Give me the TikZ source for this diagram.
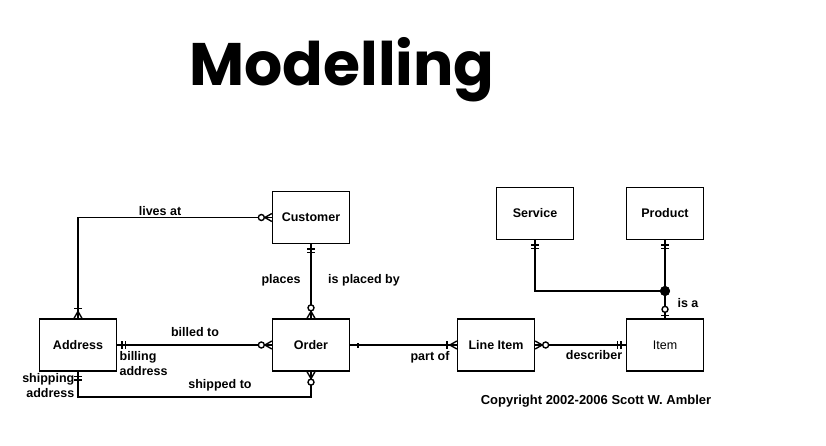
\documentclass[tikz,border=0pt]{standalone}
\usepackage{fontspec}
\setmainfont{Liberation Sans}
\newfontfamily\titlefont{Poppins}
\begin{document}
\begin{tikzpicture}[x=1pt,y=-1pt,
  line width=1.3pt,
  entity/.style={draw, line width=1.3pt, minimum width=77pt, minimum height=52pt, inner sep=0pt, font=\bfseries\fontsize{12.5}{14}\selectfont},
  lbl/.style={inner sep=0pt, font=\bfseries\fontsize{12.5}{15}\selectfont},
  conn/.style={line width=1.5pt},
  sym/.style={line width=1.4pt},
  crowzeromany/.pic={\draw[sym] (0,4pt)--(7pt,0)--(0,-4pt); \draw[sym,fill=white] (10.5pt,0) circle (3pt);},
  crowonemany/.pic={\draw[sym] (0,4pt)--(7pt,0)--(0,-4pt); \draw[sym] (10pt,-4pt)--(10pt,4pt);},
  crowexone/.pic={\draw[sym] (5pt,-4pt)--(5pt,4pt) (8.5pt,-4pt)--(8.5pt,4pt);},
  crowzeroone/.pic={\draw[sym] (3pt,-4pt)--(3pt,4pt); \draw[sym,fill=white] (9pt,0) circle (3pt);},
  crowtick/.pic={\draw[line width=2.4pt] (8pt,-2.5pt)--(8pt,2.5pt);}
]
\useasboundingbox (0,0) rectangle (826,446);

\node[font=\titlefont\bfseries\fontsize{60}{70}\selectfont] (title) at (342,70) {Modelling};

\node[entity] (Customer) at (311,217.5) {Customer};
\node[entity] (Address) at (78,345) {Address};
\node[entity] (Order) at (311,345) {Order};
\node[entity] (LineItem) at (496,345) {Line Item};
\node[entity, font=\fontsize{12.5}{14}\selectfont] (Item) at (665,345) {Item};
\node[entity] (Service) at (535,213.5) {Service};
\node[entity] (Product) at (665,213.5) {Product};

\node[circle, fill=black, inner sep=0pt, minimum size=10pt] (J) at (665,291) {};
\coordinate (S1) at (78,397);

% connectors
\draw[conn] (Address.north) |- (Customer.west);
\draw[conn] (Customer.south) -- (Order.north);
\draw[conn] (Address.east) -- (Order.west);
\draw[conn] (Address.south) -- (S1) -| (Order.south);
\draw[conn] (Order.east) -- (LineItem.west);
\draw[conn] (LineItem.east) -- (Item.west);
\draw[conn] (Service.south) |- (J.center);
\draw[conn] (Product.south) -- (J.center) -- (Item.north);
\node[circle, fill=black, inner sep=0pt, minimum size=10pt] at (J) {};

% end symbols
\pic[rotate=90] at (Address.north) {crowonemany};
\pic[rotate=180] at (Customer.west) {crowzeromany};
\pic[rotate=-90] at (Customer.south) {crowexone};
\pic[rotate=90] at (Order.north) {crowzeromany};
\pic at (Address.east) {crowexone};
\pic[rotate=180] at (Order.west) {crowzeromany};
\pic[rotate=-90] at (Address.south) {crowexone};
\pic[rotate=-90] at (Order.south) {crowzeromany};
\pic at (Order.east) {crowtick};
\pic[rotate=180] at (LineItem.west) {crowonemany};
\pic at (LineItem.east) {crowzeromany};
\pic[rotate=180] at (Item.west) {crowexone};
\pic[rotate=90] at (Item.north) {crowzeroone};
\pic[rotate=-90] at (Service.south) {crowexone};
\pic[rotate=-90] at (Product.south) {crowexone};

% labels
\node[lbl] (l1) at (160,211) {lives at};
\node[lbl] (l2) at (281,280) {places};
\node[lbl] (l3) at (364,280) {is placed by};
\node[lbl] (l4) at (195,332) {billed to};
\node[lbl, anchor=north west, align=left] (l5) at (119,351) {billing\\address};
\node[lbl] (l6) at (220,385) {shipped to};
\node[lbl, anchor=north east, align=right] (l7) at (75,373) {shipping\\address};
\node[lbl] (l8) at (430,357) {part of};
\node[lbl] (l9) at (594,355) {describer};
\node[lbl] (l10) at (688,303) {is a};
\node[lbl, font=\bfseries\fontsize{13}{15}\selectfont] (copy) at (596,401) {Copyright 2002-2006 Scott W. Ambler};
\end{tikzpicture}
\end{document}
